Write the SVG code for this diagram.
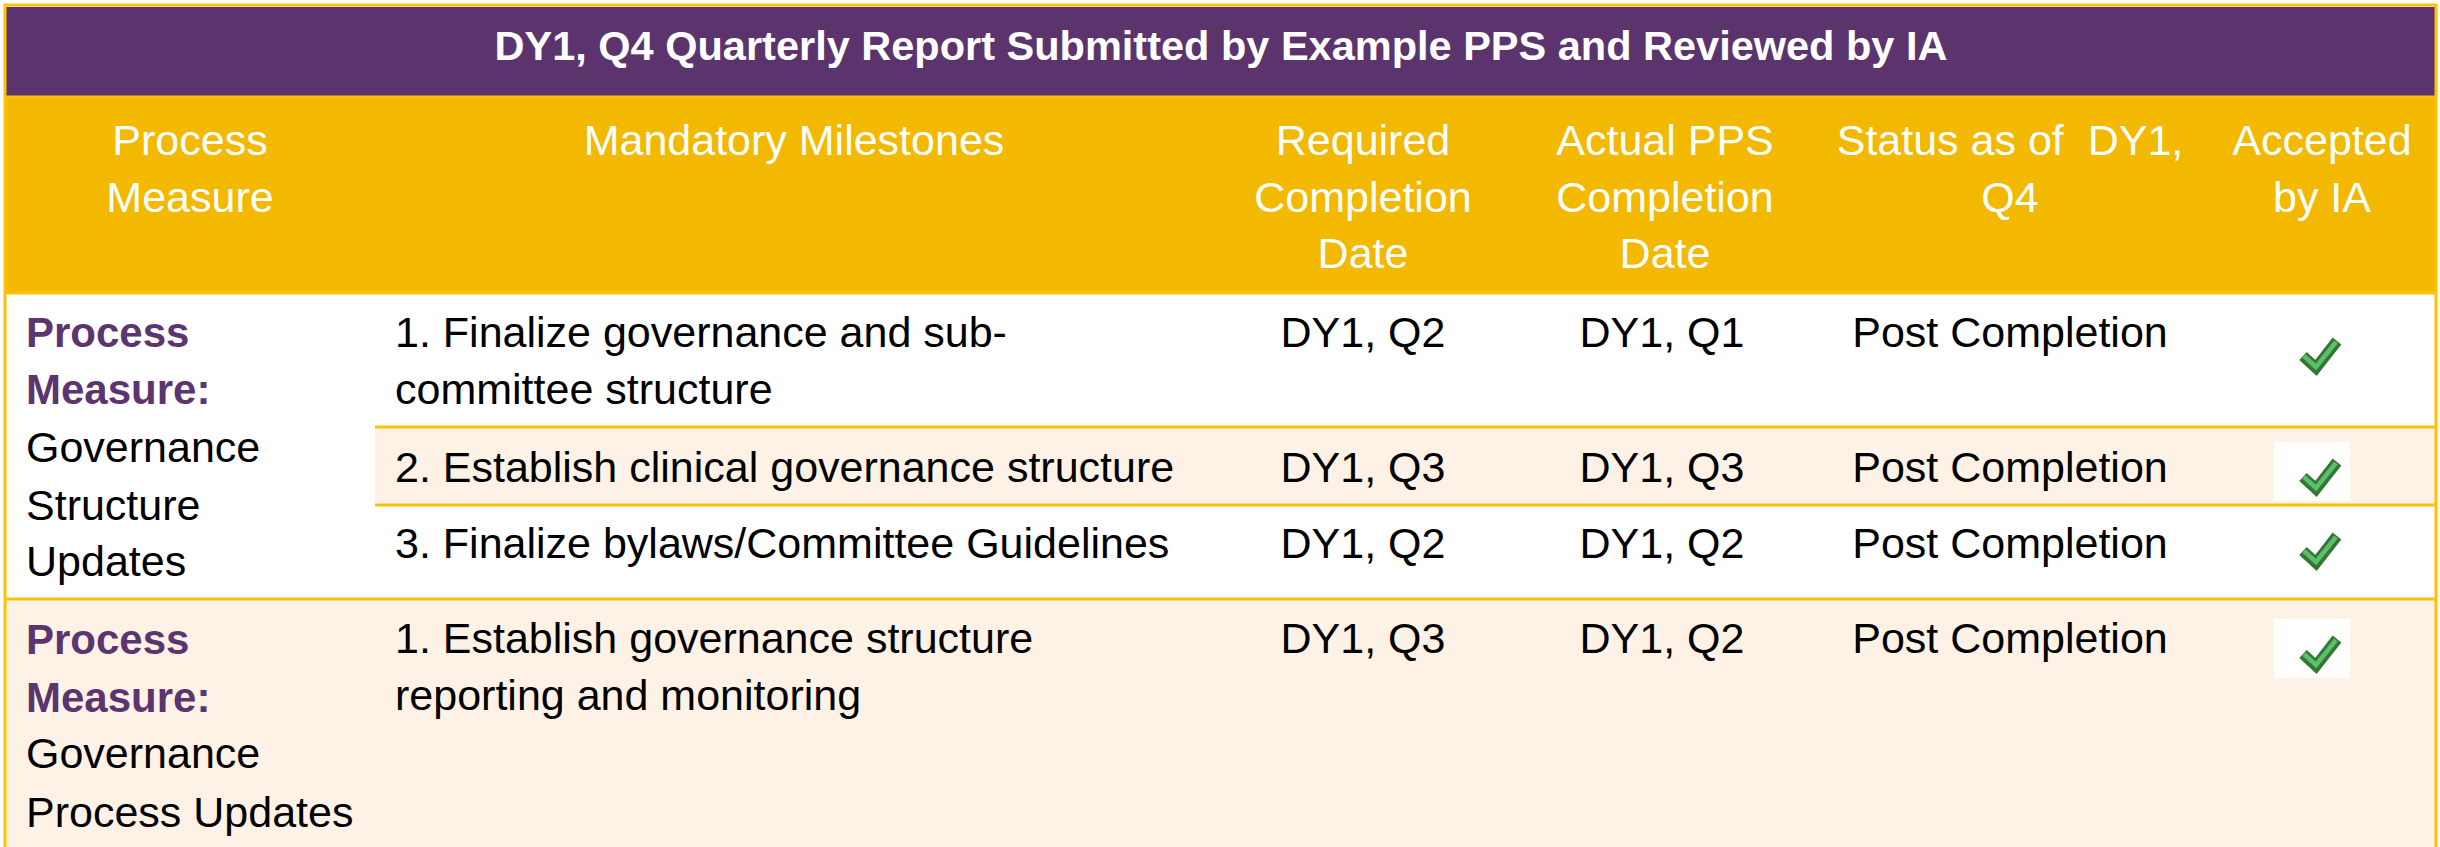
<svg xmlns="http://www.w3.org/2000/svg" width="2440" height="847" viewBox="0 0 2440 847">
<style>
  text { font-family: "Liberation Sans", Arial, sans-serif; font-size: 43px; }
  .title { font-weight: bold; fill: #ffffff; font-size: 41.5px; }
  .hd { fill: #ffffff; text-anchor: middle; }
  .c { text-anchor: middle; fill: #000000; }
  .l { fill: #000000; }
  .pm { fill: #5b3470; font-weight: bold; font-size: 42px; }
  .grid { stroke: #ffc000; stroke-width: 3; fill: none; }
</style>
<defs>
  <g id="check">
    <path d="M3,19 L16,31 L37,4" fill="none" stroke="#357535" stroke-width="11" stroke-linejoin="miter"/>
    <path d="M4,19 L16,30 L36,5" fill="none" stroke="#5cbf6a" stroke-width="4.5"/>
  </g>
</defs>

<g id="backgrounds">
  <rect x="5" y="5" width="2431" height="842" fill="#ffffff"/>
  <rect id="title-band" x="5" y="7" width="2431" height="90" fill="#5b346e"/>
  <rect id="header-band" x="5" y="97" width="2431" height="196" fill="#f2b900"/>
  <rect x="375" y="427" width="2061" height="78" fill="#fef2e6"/>
  <rect x="5" y="599" width="2431" height="248" fill="#fef2e6"/>
  <rect x="2274" y="442" width="76" height="59" fill="#ffffff"/>
  <rect x="2274" y="619" width="76" height="59" fill="#ffffff"/>
</g>

<g id="connectors">
  <line class="grid" x1="375" y1="427" x2="2436" y2="427"/>
  <line class="grid" x1="375" y1="505" x2="2436" y2="505"/>
  <line class="grid" x1="5" y1="599" x2="2436" y2="599"/>
  <line class="grid" x1="5" y1="293" x2="2436" y2="293"/>
  <line class="grid" x1="5" y1="97" x2="2436" y2="97"/>
  <rect class="grid" x="5" y="5" width="2431" height="845"/>
</g>

<g id="title">
  <text class="title" x="1221" y="60" text-anchor="middle">DY1, Q4 Quarterly Report Submitted by Example PPS and Reviewed by IA</text>
</g>

<g id="header">
  <text class="hd" x="190" y="155">Process</text>
  <text class="hd" x="190" y="212">Measure</text>
  <text class="hd" x="794" y="155">Mandatory Milestones</text>
  <text class="hd" x="1363" y="155">Required</text>
  <text class="hd" x="1363" y="212">Completion</text>
  <text class="hd" x="1363" y="268">Date</text>
  <text class="hd" x="1665" y="155">Actual PPS</text>
  <text class="hd" x="1665" y="212">Completion</text>
  <text class="hd" x="1665" y="268">Date</text>
  <text class="hd" x="2010" y="155" xml:space="preserve">Status as of  DY1,</text>
  <text class="hd" x="2010" y="212">Q4</text>
  <text class="hd" x="2322" y="155">Accepted</text>
  <text class="hd" x="2322" y="212">by IA</text>
</g>

<g id="measure-1">
  <text class="pm" x="26" y="347">Process</text>
  <text class="pm" x="26" y="404">Measure:</text>
  <text class="l" x="26" y="462">Governance</text>
  <text class="l" x="26" y="520">Structure</text>
  <text class="l" x="26" y="576">Updates</text>
</g>

<g id="row-1">
  <text class="l" x="395" y="347">1. Finalize governance and sub-</text>
  <text class="l" x="395" y="404">committee structure</text>
  <text class="c" x="1363" y="347">DY1, Q2</text>
  <text class="c" x="1662" y="347">DY1, Q1</text>
  <text class="c" x="2010" y="347">Post Completion</text>
  <use href="#check" x="2300" y="337"/>
</g>

<g id="row-2">
  <text class="l" x="395" y="482">2. Establish clinical governance structure</text>
  <text class="c" x="1363" y="482">DY1, Q3</text>
  <text class="c" x="1662" y="482">DY1, Q3</text>
  <text class="c" x="2010" y="482">Post Completion</text>
  <use href="#check" x="2300" y="458"/>
</g>

<g id="row-3">
  <text class="l" x="395" y="558">3. Finalize bylaws/Committee Guidelines</text>
  <text class="c" x="1363" y="558">DY1, Q2</text>
  <text class="c" x="1662" y="558">DY1, Q2</text>
  <text class="c" x="2010" y="558">Post Completion</text>
  <use href="#check" x="2300" y="532"/>
</g>

<g id="measure-2">
  <text class="pm" x="26" y="654">Process</text>
  <text class="pm" x="26" y="712">Measure:</text>
  <text class="l" x="26" y="768">Governance</text>
  <text class="l" x="26" y="827">Process Updates</text>
</g>

<g id="row-4">
  <text class="l" x="395" y="653">1. Establish governance structure</text>
  <text class="l" x="395" y="710">reporting and monitoring</text>
  <text class="c" x="1363" y="653">DY1, Q3</text>
  <text class="c" x="1662" y="653">DY1, Q2</text>
  <text class="c" x="2010" y="653">Post Completion</text>
  <use href="#check" x="2300" y="635"/>
</g>
</svg>
